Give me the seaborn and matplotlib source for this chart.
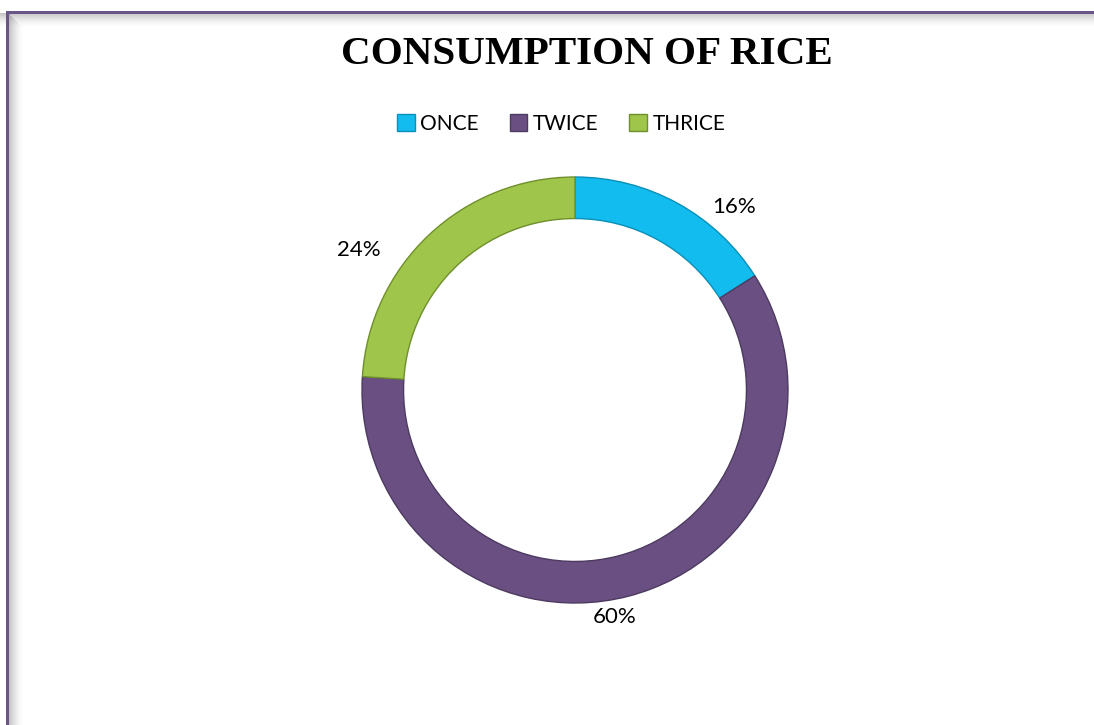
import numpy as np
import seaborn as sns
import matplotlib.pyplot as plt
from matplotlib.patches import Rectangle

sns.set_theme(style='white')

# Data
categories = ['ONCE', 'TWICE', 'THRICE']
shares = [16, 60, 24]
colors = ['#12bcef', '#6a5082', '#9fc64a']
edges = ['#0a8fb8', '#4d3a60', '#6f8f2c']

# Label positions (data units, ring radius = 1)
label_pos = [(0.745, 0.86), (0.185, -1.065), (-1.015, 0.655)]

fig = plt.figure(figsize=(10.94, 7.25), dpi=100)
fig.patch.set_facecolor('white')

# Frame on top and left with soft shadow
for i in range(14):
    a = 0.45 * (1 - i / 14) ** 1.6
    fig.patches.append(Rectangle((0, (725 - 14 - i) / 725), 1, 1 / 725,
                                 transform=fig.transFigure, color='gray',
                                 alpha=a, lw=0))
    fig.patches.append(Rectangle(((9 + i) / 1094, 0), 1 / 1094, (725 - 14 - i) / 725,
                                 transform=fig.transFigure, color='gray',
                                 alpha=a, lw=0))
fig.patches.append(Rectangle((6 / 1094, 0), 3 / 1094, (725 - 11) / 725,
                             transform=fig.transFigure, color='#6a5587', lw=0))
fig.patches.append(Rectangle((6 / 1094, (725 - 14) / 725), 1, 3 / 725,
                             transform=fig.transFigure, color='#6a5587', lw=0))

ax = fig.add_axes([(575 - 213) / 1094, (725 - 390 - 213) / 725,
                   426 / 1094, 426 / 725])
wedges, _ = ax.pie(shares, colors=colors, startangle=90, counterclock=False,
                   radius=1, wedgeprops=dict(width=0.195, linewidth=1))
for w, e in zip(wedges, edges):
    w.set_edgecolor(e)

for (x, y), s in zip(label_pos, shares):
    ax.text(x, y, f'{s}%', ha='center', va='center', fontsize=16,
            family='Lato', color='black')

ax.set_xlim(-1, 1)
ax.set_ylim(-1, 1)
ax.set_aspect('equal')
ax.axis('off')

fig.text(587 / 1094, 1 - 55 / 725, 'CONSUMPTION OF RICE', ha='center',
         va='center', fontsize=29.6, fontweight='bold',
         family='Liberation Serif', color='black')

leg = fig.legend(wedges, categories, loc='center', ncol=3,
                 bbox_to_anchor=(561 / 1094, 1 - 124 / 725), frameon=False,
                 prop=dict(family='Lato', size=15), handlelength=0.85,
                 handleheight=0.85, handletextpad=0.25, columnspacing=1.5)
for t in leg.get_texts():
    t.set_color('black')

fig.savefig('out.png', dpi=100)
